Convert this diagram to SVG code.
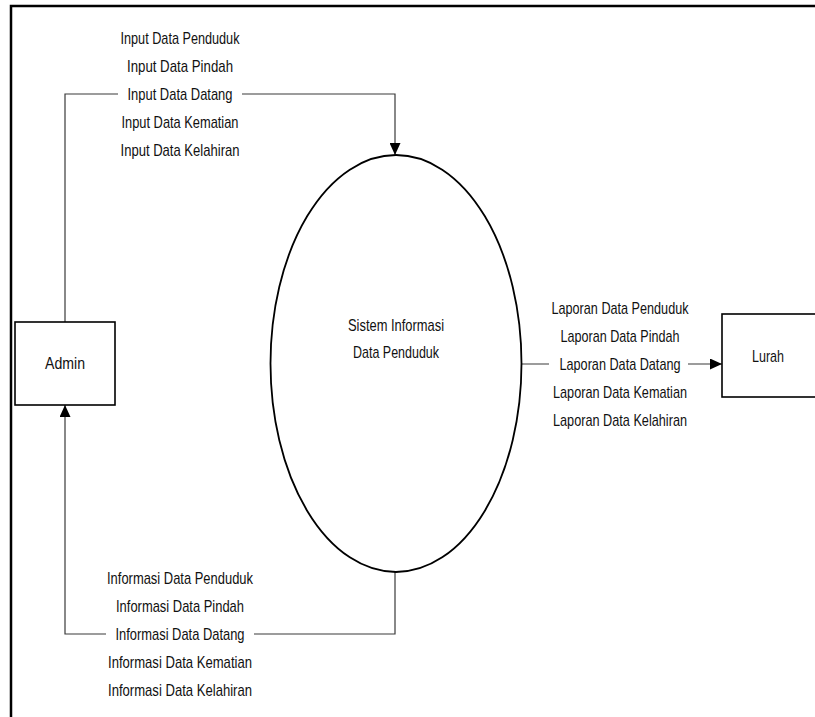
<svg xmlns="http://www.w3.org/2000/svg" width="815" height="717" viewBox="0 0 815 717">
  <style>
    .frame { stroke: #000; stroke-width: 2.5; fill: none; }
    .entity { fill: #fff; stroke: #000; stroke-width: 1.6; }
    .process { fill: #fff; stroke: #000; stroke-width: 1.8; }
    .flow { fill: none; stroke: #3a3a3a; stroke-width: 1.2; }
    .txt { font-family: "Liberation Sans", Arial, sans-serif; font-size: 17px; fill: #111; text-anchor: middle; }
    .mask { fill: #fff; }
  </style>
  <defs>
    <marker id="arrow" viewBox="0 0 12 11" refX="12" refY="5.5" markerWidth="12" markerHeight="11" markerUnits="userSpaceOnUse" orient="auto">
      <path d="M0,0 L12,5.5 L0,11 Z" fill="#000"/>
    </marker>
  </defs>
  <rect width="815" height="717" fill="#fff"/>

  <!-- page frame -->
  <path class="frame" d="M11,717 L11,6 L815,6"/>

  <!-- connectors -->
  <g id="connectors">
    <path class="flow" d="M65,322 L65,94 L395,94 L395,155" marker-end="url(#arrow)"/>
    <path class="flow" d="M521,364 L722,364" marker-end="url(#arrow)"/>
    <path class="flow" d="M395,572 L395,634 L65,634 L65,405" marker-end="url(#arrow)"/>
  </g>

  <!-- flow labels -->
  <g id="label-input">
    <rect class="mask" x="118" y="84" width="124" height="20"/>
    <text class="txt" x="180" y="44" textLength="119" lengthAdjust="spacingAndGlyphs">Input Data Penduduk</text>
    <text class="txt" x="180" y="72" textLength="106" lengthAdjust="spacingAndGlyphs">Input Data Pindah</text>
    <text class="txt" x="180" y="100" textLength="105" lengthAdjust="spacingAndGlyphs">Input Data Datang</text>
    <text class="txt" x="180" y="128" textLength="117" lengthAdjust="spacingAndGlyphs">Input Data Kematian</text>
    <text class="txt" x="180" y="156" textLength="119" lengthAdjust="spacingAndGlyphs">Input Data Kelahiran</text>
  </g>
  <g id="label-laporan">
    <rect class="mask" x="549" y="354" width="139" height="20"/>
    <text class="txt" x="620" y="314" textLength="137" lengthAdjust="spacingAndGlyphs">Laporan Data Penduduk</text>
    <text class="txt" x="620" y="342" textLength="119" lengthAdjust="spacingAndGlyphs">Laporan Data Pindah</text>
    <text class="txt" x="620" y="370" textLength="121" lengthAdjust="spacingAndGlyphs">Laporan Data Datang</text>
    <text class="txt" x="620" y="398" textLength="134" lengthAdjust="spacingAndGlyphs">Laporan Data Kematian</text>
    <text class="txt" x="620" y="426" textLength="134" lengthAdjust="spacingAndGlyphs">Laporan Data Kelahiran</text>
  </g>
  <g id="label-informasi">
    <rect class="mask" x="106" y="624" width="148" height="20"/>
    <text class="txt" x="180" y="584" textLength="146" lengthAdjust="spacingAndGlyphs">Informasi Data Penduduk</text>
    <text class="txt" x="180" y="612" textLength="128" lengthAdjust="spacingAndGlyphs">Informasi Data Pindah</text>
    <text class="txt" x="180" y="640" textLength="129" lengthAdjust="spacingAndGlyphs">Informasi Data Datang</text>
    <text class="txt" x="180" y="668" textLength="144" lengthAdjust="spacingAndGlyphs">Informasi Data Kematian</text>
    <text class="txt" x="180" y="696" textLength="144" lengthAdjust="spacingAndGlyphs">Informasi Data Kelahiran</text>
  </g>

  <!-- external entity: Admin -->
  <g id="admin">
    <rect class="entity" x="15" y="322" width="100" height="83"/>
    <text class="txt" x="65" y="369" textLength="40" lengthAdjust="spacingAndGlyphs">Admin</text>
  </g>

  <!-- process -->
  <g id="sistem">
    <ellipse class="process" cx="396" cy="363.5" rx="125.5" ry="208.5"/>
    <text class="txt" x="396" y="331" textLength="96" lengthAdjust="spacingAndGlyphs">Sistem Informasi</text>
    <text class="txt" x="396" y="358" textLength="86" lengthAdjust="spacingAndGlyphs">Data Penduduk</text>
  </g>

  <!-- external entity: Lurah -->
  <g id="lurah">
    <rect class="entity" x="722" y="314" width="100" height="83"/>
    <text class="txt" x="768" y="362" textLength="32" lengthAdjust="spacingAndGlyphs">Lurah</text>
  </g>
</svg>
